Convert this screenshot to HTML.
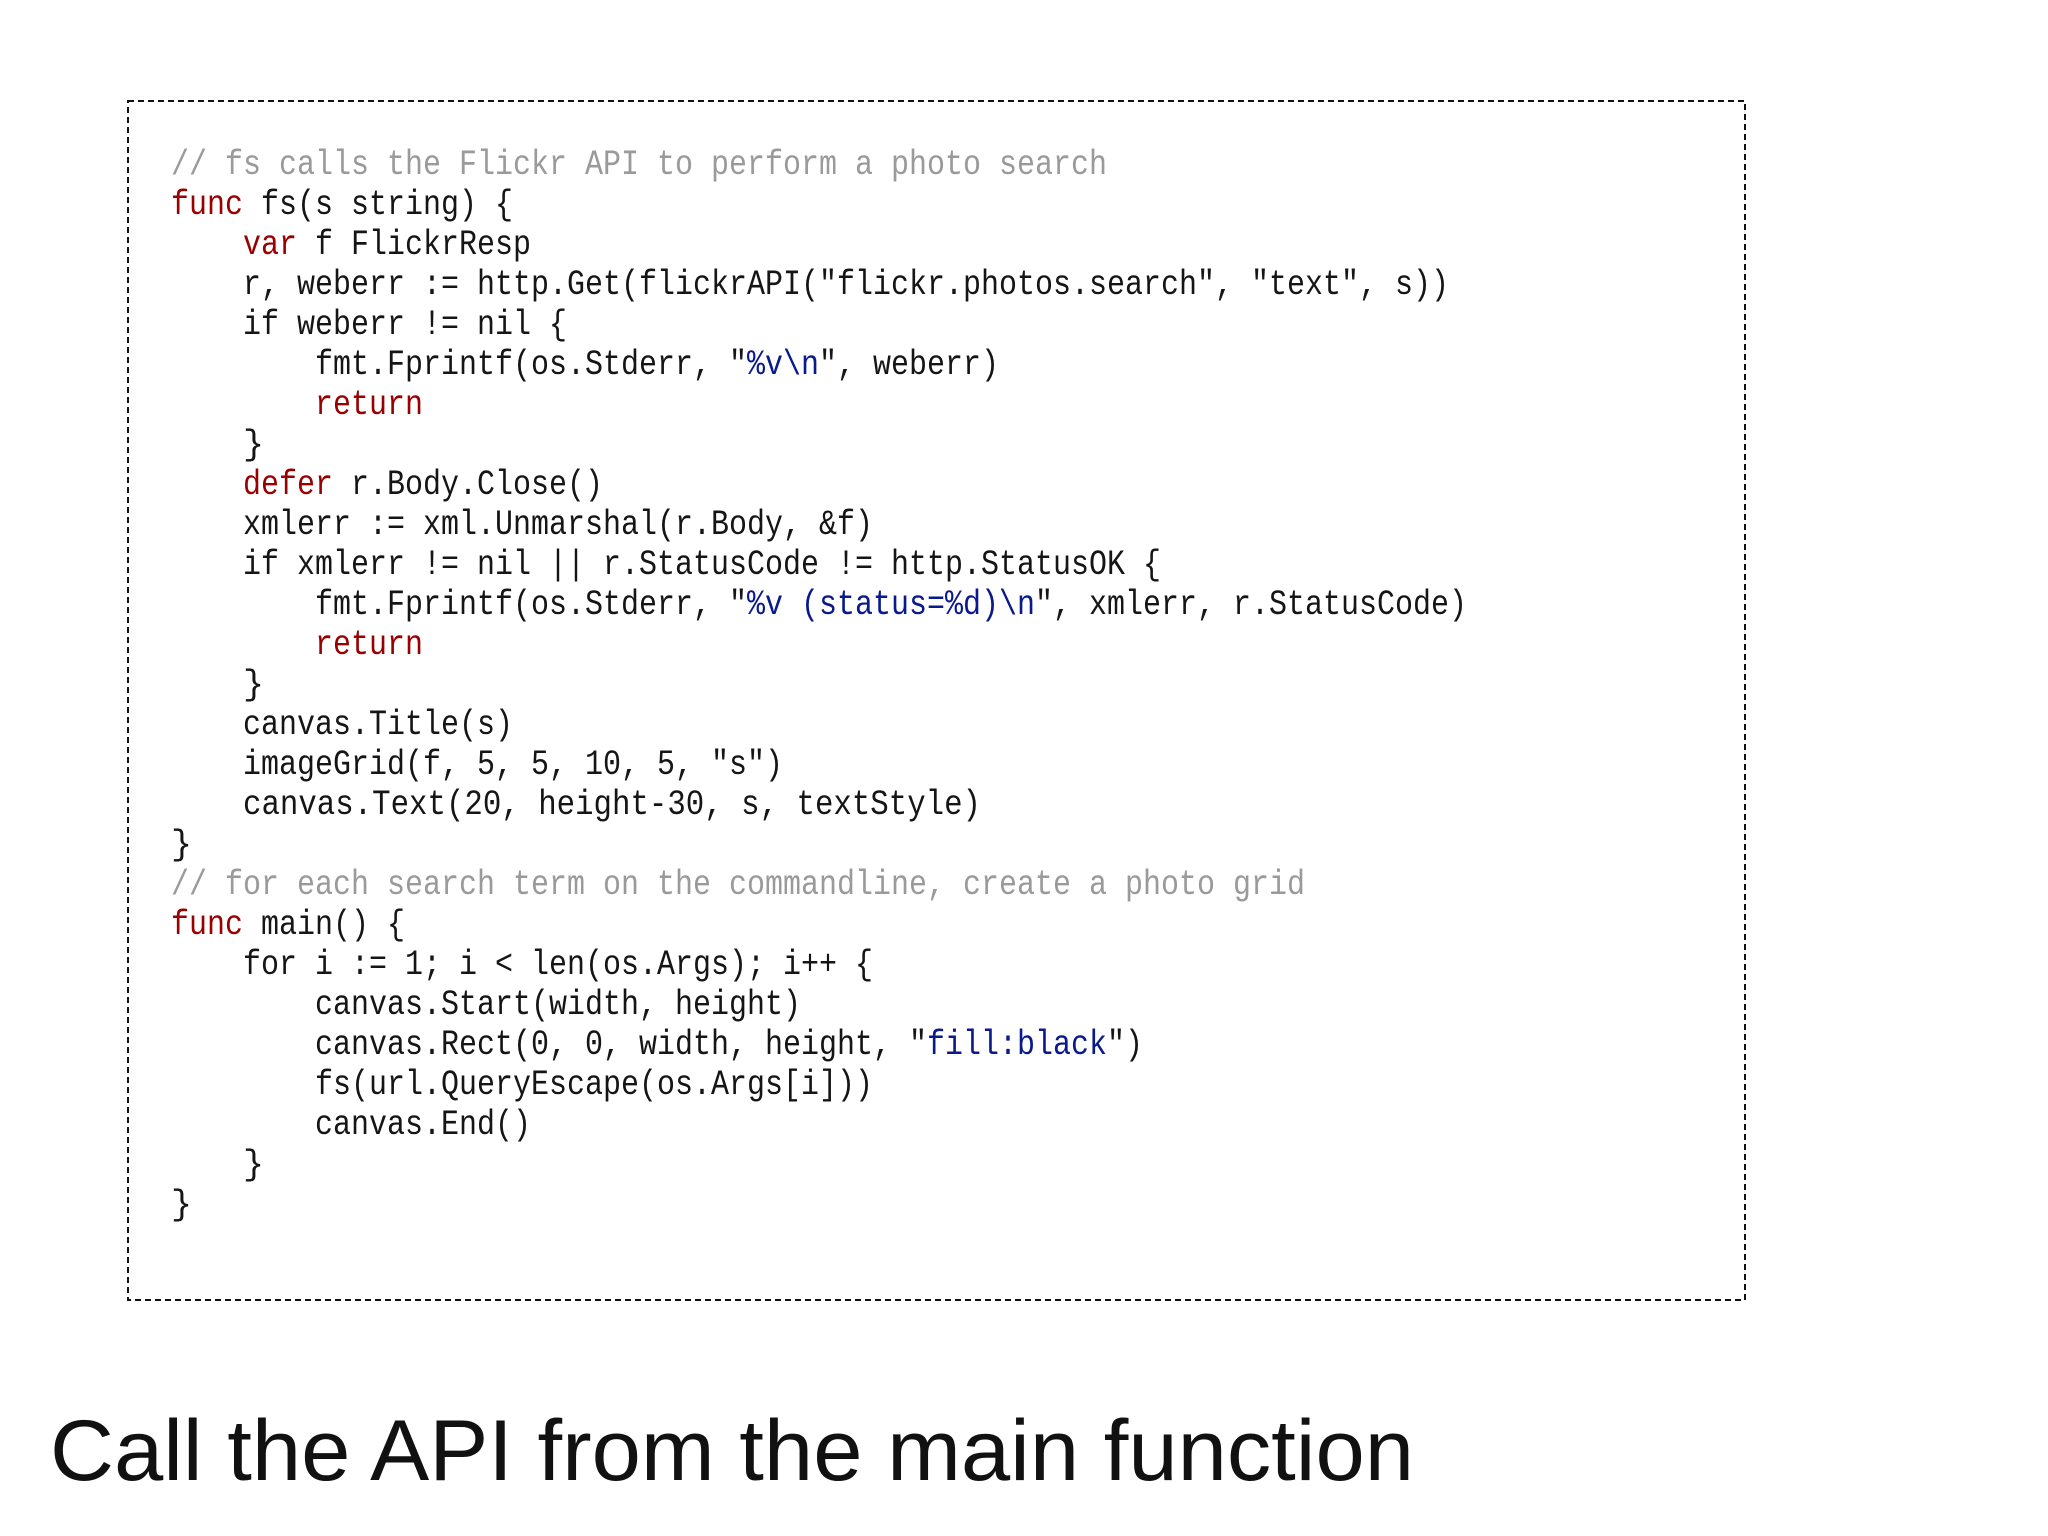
<!DOCTYPE html>
<html><head><meta charset="utf-8"><style>
html,body{margin:0;padding:0;background:#fff;}
svg{display:block;}
text{white-space:pre;}
.c{font-family:"Liberation Mono",monospace;font-size:35px;fill:#151515;}
.k{fill:#990000;}
.s{fill:#0a1a8a;}
.m{fill:#9a9a9a;}
</style></head><body>
<svg width="2048" height="1536" viewBox="0 0 2048 1536" xmlns="http://www.w3.org/2000/svg">
<rect x="0" y="0" width="2048" height="1536" fill="#fff"/>
<rect x="128" y="101" width="1617" height="1199" fill="none" stroke="#111" stroke-width="2" stroke-dasharray="6 4"/>
<g class="c">
<text x="171" y="174" textLength="936" lengthAdjust="spacingAndGlyphs" class="c m">// fs calls the Flickr API to perform a photo search</text>
<text x="171" y="214" textLength="342" lengthAdjust="spacingAndGlyphs"><tspan class="k">func</tspan> fs(s string) {</text>
<text x="243" y="254" textLength="288" lengthAdjust="spacingAndGlyphs"><tspan class="k">var</tspan> f FlickrResp</text>
<text x="243" y="294" textLength="1206" lengthAdjust="spacingAndGlyphs">r, weberr := http.Get(flickrAPI("flickr.photos.search", "text", s))</text>
<text x="243" y="334" textLength="324" lengthAdjust="spacingAndGlyphs">if weberr != nil {</text>
<text x="315" y="374" textLength="684" lengthAdjust="spacingAndGlyphs">fmt.Fprintf(os.Stderr, "<tspan class="s">%v\n</tspan>", weberr)</text>
<text x="315" y="414" textLength="108" lengthAdjust="spacingAndGlyphs" class="c k">return</text>
<text x="243" y="454">}</text>
<text x="243" y="494" textLength="360" lengthAdjust="spacingAndGlyphs"><tspan class="k">defer</tspan> r.Body.Close()</text>
<text x="243" y="534" textLength="630" lengthAdjust="spacingAndGlyphs">xmlerr := xml.Unmarshal(r.Body, &amp;f)</text>
<text x="243" y="574" textLength="918" lengthAdjust="spacingAndGlyphs">if xmlerr != nil || r.StatusCode != http.StatusOK {</text>
<text x="315" y="614" textLength="1152" lengthAdjust="spacingAndGlyphs">fmt.Fprintf(os.Stderr, "<tspan class="s">%v (status=%d)\n</tspan>", xmlerr, r.StatusCode)</text>
<text x="315" y="654" textLength="108" lengthAdjust="spacingAndGlyphs" class="c k">return</text>
<text x="243" y="694">}</text>
<text x="243" y="734" textLength="270" lengthAdjust="spacingAndGlyphs">canvas.Title(s)</text>
<text x="243" y="774" textLength="540" lengthAdjust="spacingAndGlyphs">imageGrid(f, 5, 5, 10, 5, "s")</text>
<text x="243" y="814" textLength="738" lengthAdjust="spacingAndGlyphs">canvas.Text(20, height-30, s, textStyle)</text>
<text x="171" y="854">}</text>
<text x="171" y="894" textLength="1134" lengthAdjust="spacingAndGlyphs" class="c m">// for each search term on the commandline, create a photo grid</text>
<text x="171" y="934" textLength="234" lengthAdjust="spacingAndGlyphs"><tspan class="k">func</tspan> main() {</text>
<text x="243" y="974" textLength="630" lengthAdjust="spacingAndGlyphs">for i := 1; i &lt; len(os.Args); i++ {</text>
<text x="315" y="1014" textLength="486" lengthAdjust="spacingAndGlyphs">canvas.Start(width, height)</text>
<text x="315" y="1054" textLength="828" lengthAdjust="spacingAndGlyphs">canvas.Rect(0, 0, width, height, "<tspan class="s">fill:black</tspan>")</text>
<text x="315" y="1094" textLength="558" lengthAdjust="spacingAndGlyphs">fs(url.QueryEscape(os.Args[i]))</text>
<text x="315" y="1134" textLength="216" lengthAdjust="spacingAndGlyphs">canvas.End()</text>
<text x="243" y="1174">}</text>
<text x="171" y="1214">}</text>
</g>
<text x="50" y="1480" textLength="1364" lengthAdjust="spacingAndGlyphs" style="font-family:'Liberation Sans',sans-serif;font-size:86px;fill:#111;">Call the API from the main function</text>
</svg>
</body></html>
